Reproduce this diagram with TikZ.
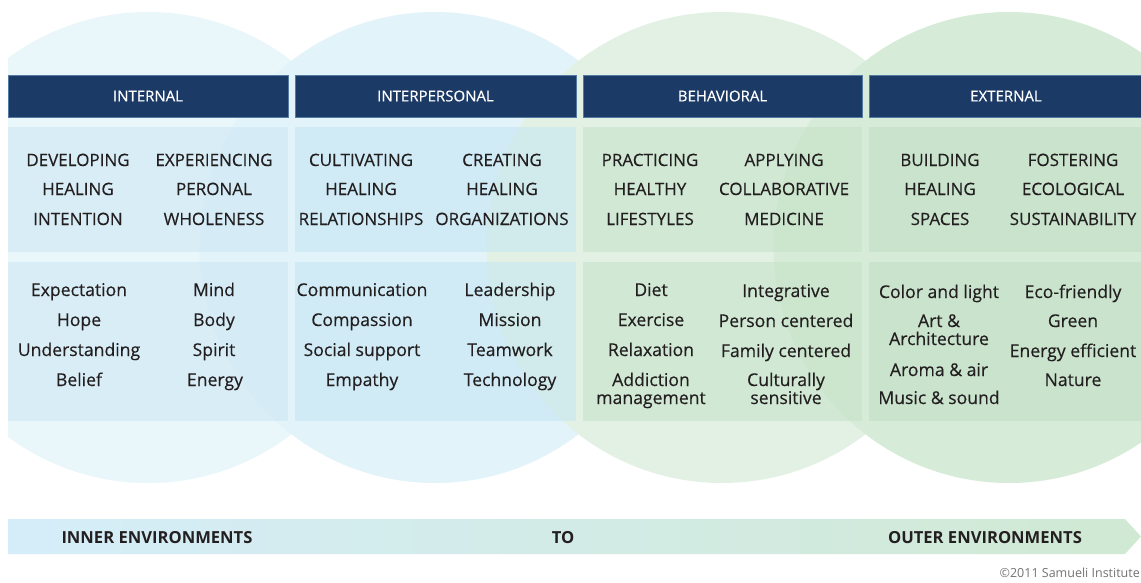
\documentclass[tikz,border=0pt]{standalone}
\usepackage{fontspec}
\setmainfont{Open Sans}
\newfontfamily\bodyfont{Open Sans}[FakeBold=0.35]
\definecolor{circA}{HTML}{E9F6FA}
\definecolor{circB}{HTML}{E2F3FA}
\definecolor{circC}{HTML}{E3F1E5}
\definecolor{circD}{HTML}{D6EBD8}
\definecolor{cellA}{HTML}{CAE6F4}
\definecolor{cellB}{HTML}{C0E4F4}
\definecolor{cellC}{HTML}{C1E2C4}
\definecolor{cellD}{HTML}{BDDDC1}
\definecolor{navy}{HTML}{1C3A66}
\definecolor{navyedge}{HTML}{5479A3}
\definecolor{ink}{HTML}{231F20}
\definecolor{bandL}{HTML}{D5EDF9}
\definecolor{bandM}{HTML}{EEF7FB}
\definecolor{bandR}{HTML}{D0E9D3}
\begin{document}
\begin{tikzpicture}[x=1pt,y=-1pt,
  hdr/.style={fill=navy, draw=navyedge, line width=0.8pt, text=white,
    font=\bodyfont\fontsize{15}{18}\selectfont, minimum height=42pt, inner sep=0pt},
  captext/.style={anchor=base, text=ink, inner sep=0pt, font=\bodyfont\fontsize{17}{20}\selectfont},
  lowtext/.style={anchor=base, text=ink, inner sep=0pt, font=\bodyfont\fontsize{17.6}{20}\selectfont},
  bandtext/.style={anchor=base, text=ink, inner sep=0pt, font=\bfseries\fontsize{16.6}{20}\selectfont}]
\useasboundingbox (0,0) rectangle (1141,582);
\fill[white] (0,0) rectangle (1141,582);
% circles
\begin{scope}
\clip (8,0) rectangle (1141,582);
\fill[circA] (148,247.5) circle[radius=235.5pt];
\fill[circB] (435,247.5) circle[radius=235.5pt];
\fill[circC] (722,247.5) circle[radius=235.5pt];
\fill[circD] (1009,247.5) circle[radius=235.5pt];
\end{scope}
% cells
\fill[cellA, fill opacity=0.5] (8,127) rectangle (288,252);
\fill[cellB, fill opacity=0.5] (295,127) rectangle (576,252);
\fill[cellC, fill opacity=0.5] (583,127) rectangle (862,252);
\fill[cellD, fill opacity=0.5] (869,127) rectangle (1141,252);
\fill[cellA, fill opacity=0.5] (8,262) rectangle (288,421);
\fill[cellB, fill opacity=0.5] (295,262) rectangle (576,421);
\fill[cellC, fill opacity=0.5] (583,262) rectangle (862,421);
\fill[cellD, fill opacity=0.5] (869,262) rectangle (1141,421);
% headers
\node[hdr, minimum width=280pt] (h1) at (148,96) {INTERNAL};
\node[hdr, minimum width=281pt] (h2) at (435.5,96) {INTERPERSONAL};
\node[hdr, minimum width=279pt] (h3) at (722.5,96) {BEHAVIORAL};
\node[hdr, minimum width=274pt] (h4) at (1006,96) {EXTERNAL};
% row 1
\foreach \x/\t [count=\i] in {78/DEVELOPING,214/EXPERIENCING,361/CULTIVATING,502/CREATING,650/PRACTICING,784/APPLYING,940/BUILDING,1073/FOSTERING}
  \node[captext] (ra\i) at (\x,166) {\t};
\foreach \x/\t [count=\i] in {78/HEALING,214/PERONAL,361/HEALING,502/HEALING,650/HEALTHY,784/COLLABORATIVE,940/HEALING,1073/ECOLOGICAL}
  \node[captext] (rb\i) at (\x,195) {\t};
\foreach \x/\t [count=\i] in {78/INTENTION,214/WHOLENESS,361/RELATIONSHIPS,502/ORGANIZATIONS,650/LIFESTYLES,784/MEDICINE,940/SPACES,1073/SUSTAINABILITY}
  \node[captext] (rc\i) at (\x,225) {\t};
% row 2
\foreach \x/\y/\t [count=\i] in {
  79/290/Expectation, 79/320/Hope, 79/350/Understanding, 79/380/Belief,
  214/290/Mind, 214/320/Body, 214/350/Spirit, 215/380/Energy,
  362/290/Communication, 362/320/Compassion, 362/350/Social support, 362/380/Empathy,
  510/290/Leadership, 510/320/Mission, 510/350/Teamwork, 510/380/Technology,
  651/290/Diet, 651/320/Exercise, 651/350/Relaxation, 651/380/Addiction, 651/398/management,
  786/291/Integrative, 786/321/Person centered, 786/351/Family centered, 786/380/Culturally, 786/398/sensitive,
  939/292/Color and light, 939/321/Art \&, 939/339/Architecture, 939/370/Aroma \& air, 939/398/Music \& sound,
  1073/292/Eco-friendly, 1073/321/Green, 1073/351/Energy efficient, 1073/380/Nature}
  \node[lowtext] (w\i) at (\x,\y+6) {\t};
% bottom band
\shade[left color=bandL, middle color=bandM, right color=bandR]
  (8,519) -- (1125,519) -- (1141,536.5) -- (1125,554) -- (8,554) -- cycle;
\node[bandtext] (inner) at (157,543) {INNER ENVIRONMENTS};
\node[bandtext] (to) at (563,543) {TO};
\node[bandtext] (outer) at (985,543) {OUTER ENVIRONMENTS};
\node[anchor=base east, text=black!55, inner sep=0pt, font=\fontsize{12.5}{15}\selectfont] (copy) at (1140,577) {©2011 Samueli Institute};
\end{tikzpicture}
\end{document}
